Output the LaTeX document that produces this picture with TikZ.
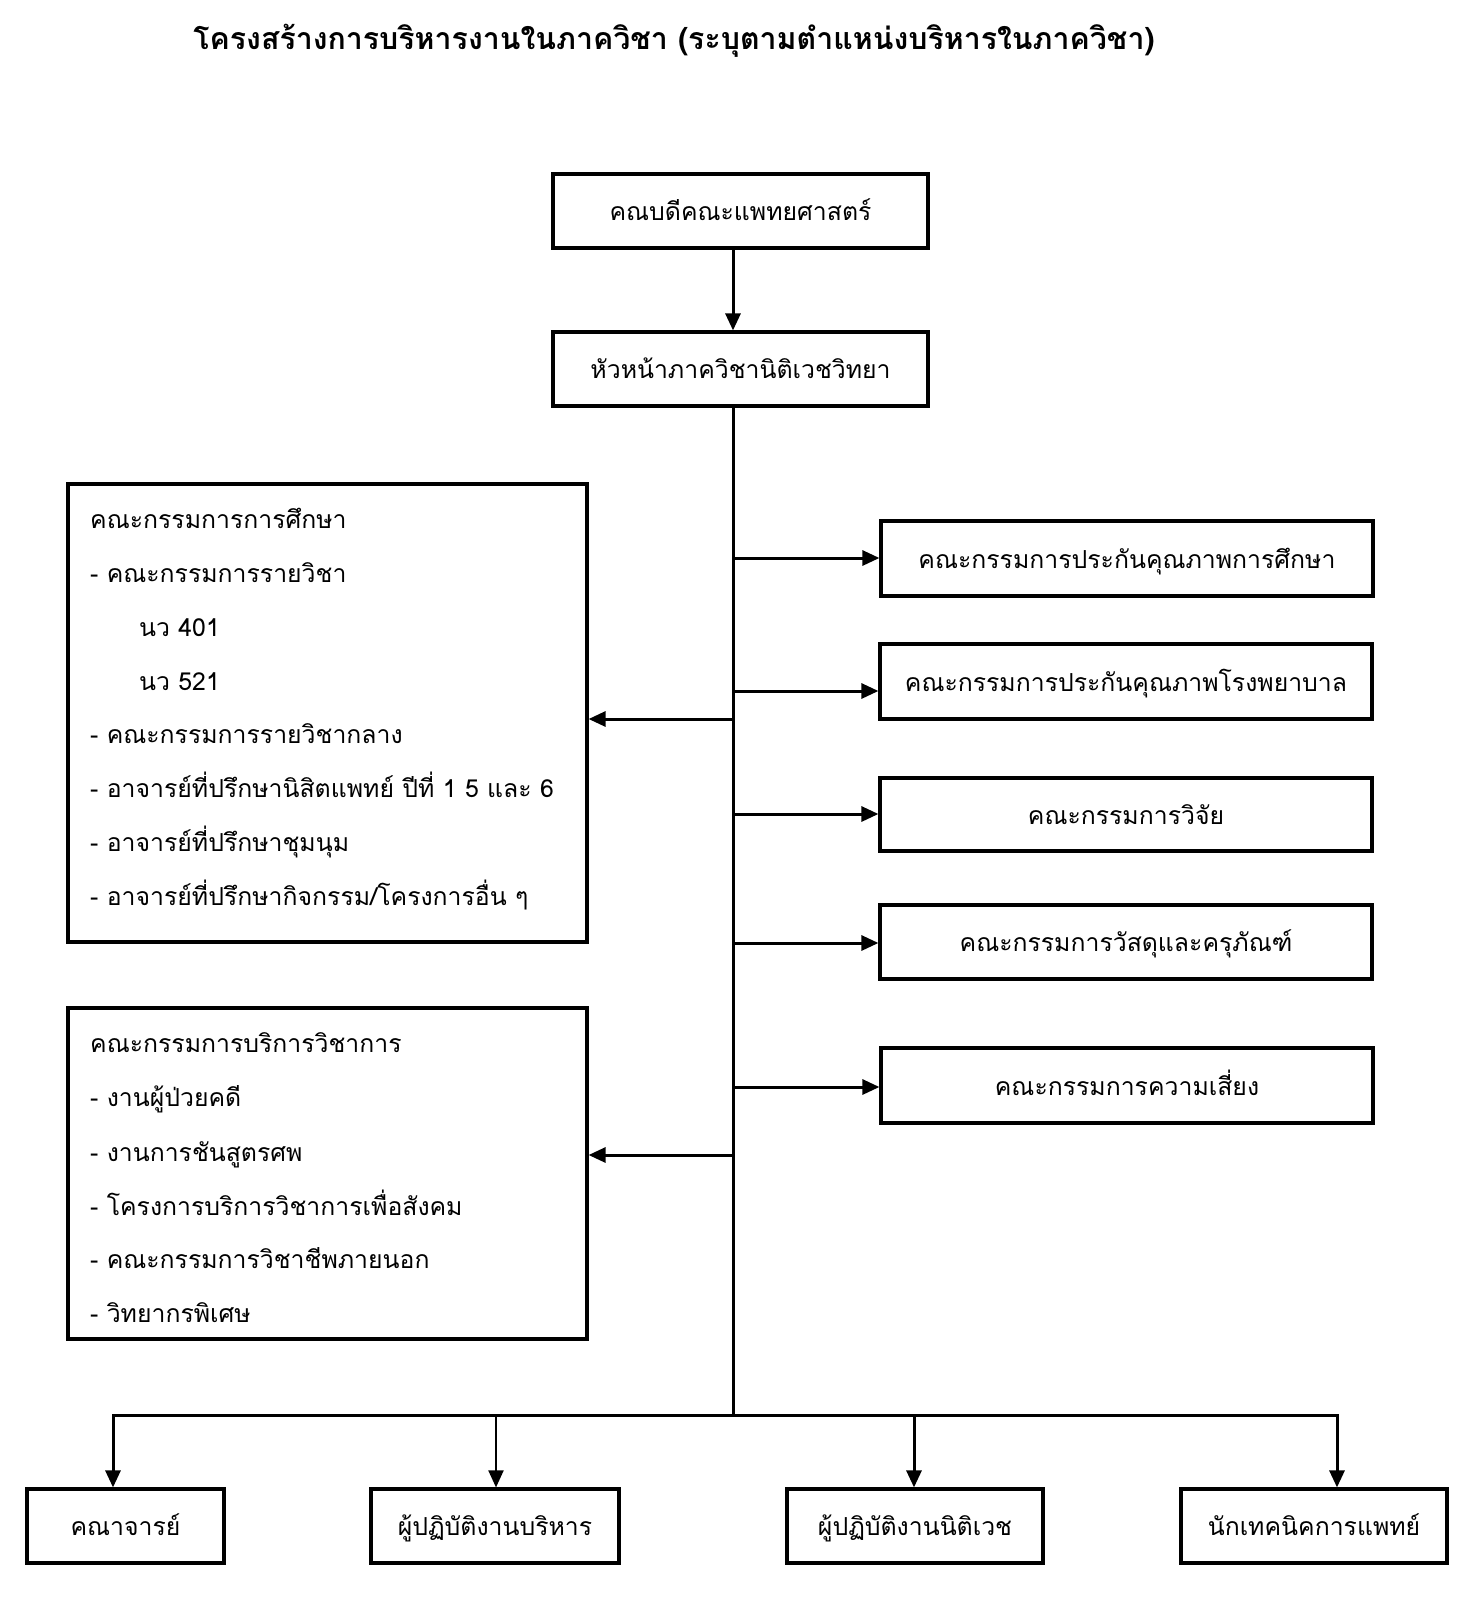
\documentclass[tikz,border=0pt]{standalone}
\usepackage{fontspec}
\newfontfamily\thaifont[Script=Thai]{Loma}
\usetikzlibrary{arrows.meta}
\begin{document}
\begin{tikzpicture}[x=1pt,y=-1pt,
  txt/.style={font=\thaifont\fontsize{24.8}{28}\selectfont},
  box/.style={draw, line width=3.2pt, fill=white, inner sep=0pt, txt, text height=21pt, text depth=2pt},
  item/.style={anchor=west, inner sep=0pt, txt, text height=20pt, text depth=3pt},
  conn/.style={line width=3pt, -{Triangle[length=17pt,width=15pt]}},
  wire/.style={line width=3pt}]
\path[use as bounding box, fill=white] (0,0) rectangle (1468,1601);
\node[font=\thaifont\bfseries\fontsize{30.3}{36}\selectfont, inner sep=0pt] (title) at (674,41) {โครงสร้างการบริหารงานในภาควิชา (ระบุตามตำแหน่งบริหารในภาควิชา)};
% top
\node[box, minimum width=375pt, minimum height=74pt] (dean) at (740.5,211) {คณบดีคณะแพทยศาสตร์};
\node[box, minimum width=375pt, minimum height=74pt] (head) at (740.5,369) {หัวหน้าภาควิชานิติเวชวิทยา};
\coordinate (tk) at (733,0);
\draw[conn] (dean.south -| tk) -- (head.north -| tk);
% left boxes
\node[box, minimum width=519pt, minimum height=458pt] (edu) at (327.5,713) {};
\node[item] (e1) at (90,520) {คณะกรรมการการศึกษา};
\node[item] (e2) at (90,574) {- คณะกรรมการรายวิชา};
\node[item] (e3) at (139,628) {นว 401};
\node[item] (e4) at (139,682) {นว 521};
\node[item] (e5) at (90,735) {- คณะกรรมการรายวิชากลาง};
\node[item] (e6) at (90,789) {- อาจารย์ที่ปรึกษานิสิตแพทย์ ปีที่ 1 5 และ 6};
\node[item] (e7) at (90,843) {- อาจารย์ที่ปรึกษาชุมนุม};
\node[item] (e8) at (90,897) {- อาจารย์ที่ปรึกษากิจกรรม/โครงการอื่น ๆ};
\node[box, minimum width=519pt, minimum height=331pt] (svc) at (327.5,1173.5) {};
\node[item] (s1) at (90,1044) {คณะกรรมการบริการวิชาการ};
\node[item] (s2) at (90,1098) {- งานผู้ป่วยคดี};
\node[item] (s3) at (90,1153) {- งานการชันสูตรศพ};
\node[item] (s4) at (90,1207) {- โครงการบริการวิชาการเพื่อสังคม};
\node[item] (s5) at (90,1260) {- คณะกรรมการวิชาชีพภายนอก};
\node[item] (s6) at (90,1314) {- วิทยากรพิเศษ};
% right boxes
\node[box, minimum width=492pt, minimum height=75pt] (r1) at (1127,558.5) {คณะกรรมการประกันคุณภาพการศึกษา};
\node[box, minimum width=492pt, minimum height=75pt] (r2) at (1126,681.5) {คณะกรรมการประกันคุณภาพโรงพยาบาล};
\node[box, minimum width=492pt, minimum height=73pt] (r3) at (1126,814.5) {คณะกรรมการวิจัย};
\node[box, minimum width=492pt, minimum height=74pt] (r4) at (1126,942) {คณะกรรมการวัสดุและครุภัณฑ์};
\node[box, minimum width=492pt, minimum height=75pt] (r5) at (1127,1085.5) {คณะกรรมการความเสี่ยง};
% bottom boxes
\node[box, minimum width=197pt, minimum height=74pt] (b1) at (125.5,1526) {คณาจารย์};
\node[box, minimum width=248pt, minimum height=74pt] (b2) at (495,1526) {ผู้ปฏิบัติงานบริหาร};
\node[box, minimum width=256pt, minimum height=74pt] (b3) at (915,1526) {ผู้ปฏิบัติงานนิติเวช};
\node[box, minimum width=266pt, minimum height=74pt] (b4) at (1314,1526) {นักเทคนิคการแพทย์};
% trunk and junctions
\coordinate (bus) at (733,1415);
\coordinate (j1) at (733,558);
\coordinate (j2) at (733,691);
\coordinate (j3) at (733,814);
\coordinate (j4) at (733,943);
\coordinate (j5) at (733,1087);
\coordinate (jl1) at (733,719);
\coordinate (jl2) at (733,1155);
\coordinate (bl) at (113,1415);
\coordinate (br) at (1337,1415);
\draw[wire] (head.south -| tk) -- (bus);
\draw[wire, line cap=rect] (bl) -- (br);
\draw[conn] (j1) -- (j1 -| r1.west);
\draw[conn] (j2) -- (j2 -| r2.west);
\draw[conn] (j3) -- (j3 -| r3.west);
\draw[conn] (j4) -- (j4 -| r4.west);
\draw[conn] (j5) -- (j5 -| r5.west);
\draw[conn] (jl1) -- (jl1 -| edu.east);
\draw[conn] (jl2) -- (jl2 -| svc.east);
\coordinate (x1) at (113,1415);
\coordinate (x2) at (496,1415);
\coordinate (x3) at (914,1415);
\coordinate (x4) at (1337,1415);
\draw[conn] (x1) -- (x1 |- b1.north);
\draw[conn, line width=2pt] (x2) -- (x2 |- b2.north);
\draw[conn] (x3) -- (x3 |- b3.north);
\draw[conn] (x4) -- (x4 |- b4.north);
\end{tikzpicture}
\end{document}
